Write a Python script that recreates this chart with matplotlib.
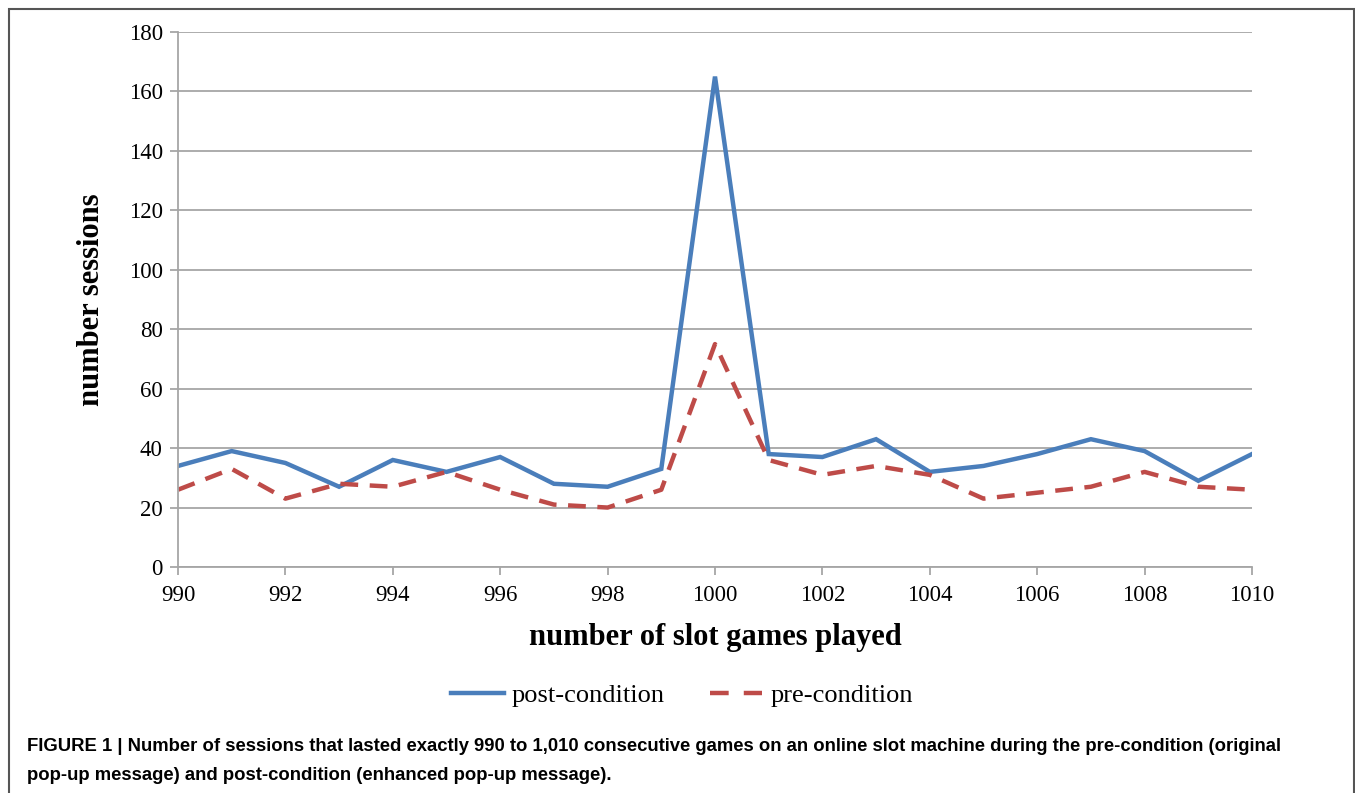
import matplotlib.pyplot as plt
from matplotlib.patches import Rectangle
from matplotlib.lines import Line2D

# number of slot games played
jogos = list(range(990, 1011))
post_condition = [34, 39, 35, 27, 36, 32, 37, 28, 27, 33, 165,
                  38, 37, 43, 32, 34, 38, 43, 39, 29, 38]
pre_condition = [26, 33, 23, 28, 27, 32, 26, 21, 20, 26, 75,
                 36, 31, 34, 31, 23, 25, 27, 32, 27, 26]

azul = '#4a7ebb'
vermelho = '#be4b48'
cinza = '#a6a6a6'

W, H = 1355, 793
fig = plt.figure(figsize=(W / 100, H / 100), dpi=100)

# moldura externa
fig.patches.append(Rectangle((9 / W, -0.1), (W - 10) / W, 1.1 - 9 / H,
                             transform=fig.transFigure, fill=False,
                             edgecolor='#555555', linewidth=1.5))

ax = fig.add_axes([178 / W, 1 - 567 / H, (1252 - 178) / W, (567 - 32) / H])
ax.plot(jogos, post_condition, color=azul, linewidth=3.2,
        solid_joinstyle='miter', label='post-condition')
ax.plot(jogos, pre_condition, color=vermelho, linewidth=3.2,
        dashes=(4, 2.6), label='pre-condition')

ax.set_xlim(990, 1010)
ax.set_ylim(0, 180)
ax.set_xticks(range(990, 1011, 2))
ax.set_yticks(range(0, 181, 20))
ax.grid(axis='y', color=cinza, linewidth=1.3)
ax.set_axisbelow(True)
for lado in ['top', 'right']:
    ax.spines[lado].set_visible(False)
for lado in ['left', 'bottom']:
    ax.spines[lado].set_color(cinza)
    ax.spines[lado].set_linewidth(1.3)
ax.tick_params(axis='both', direction='out', length=6, width=1.3, color=cinza,
               labelsize=16.5)
ax.tick_params(axis='x', pad=7)
ax.tick_params(axis='y', pad=5)
for rotulo in ax.get_xticklabels() + ax.get_yticklabels():
    rotulo.set_fontfamily('Liberation Serif')

ax.set_xlabel('number of slot games played', fontfamily='Liberation Serif',
              fontweight='bold', fontsize=22, labelpad=12)
ax.set_ylabel('number sessions', fontfamily='Liberation Serif',
              fontweight='bold', fontsize=22, labelpad=16)

handles = [Line2D([], [], color=azul, linewidth=3.2),
           Line2D([], [], color=vermelho, linewidth=3.2, dashes=(4.2, 3.4))]
fig.legend(handles, ['post-condition', 'pre-condition'], loc='center',
           bbox_to_anchor=(682 / W, 1 - 695 / H), ncol=2, frameon=False,
           prop={'family': 'Liberation Serif', 'size': 19},
           handlelength=2.0, handletextpad=0.3, columnspacing=1.7)

legenda = ('FIGURE 1 | Number of sessions that lasted exactly 990 to 1,010 consecutive '
           'games on an online slot machine during the pre-condition (original\n'
           'pop-up message) and post-condition (enhanced pop-up message).')
fig.text(27 / W, 1 - 738 / H, legenda, ha='left', va='top',
         fontfamily='Liberation Sans', fontweight='bold', fontsize=13.3,
         linespacing=1.95)

plt.savefig('out.png', dpi=100)
